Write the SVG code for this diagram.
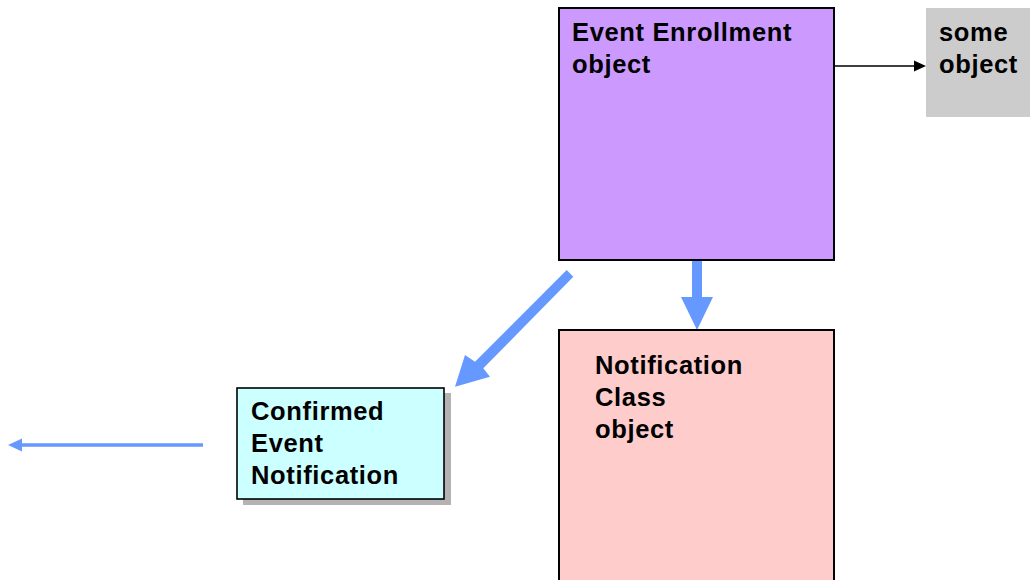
<svg xmlns="http://www.w3.org/2000/svg" width="1030" height="580" viewBox="0 0 1030 580">
<style>
.t{font-family:"Liberation Sans",Arial,sans-serif;font-weight:bold;font-size:25.5px;letter-spacing:0.65px;fill:#000}
.blue{fill:#6699FF}
</style>
<rect width="1030" height="580" fill="#fff"/>
<g id="connectors">
<line x1="835" y1="66" x2="916" y2="66" stroke="#000" stroke-width="1.6"/>
<polygon points="926,66 914,60.5 914,71.5" fill="#000"/>
<polygon class="blue" points="692,261 702,261 702,297 713,297 697,330 681,297 692,297"/>
<polygon class="blue" points="566.7,270 573.3,276.7 483.3,368.3 490,376.7 455,386.7 465,355 475,361.7"/>
<line x1="203" y1="445" x2="20" y2="445" stroke="#6699FF" stroke-width="3.6"/>
<polygon class="blue" points="8,445 22,438.5 22,451.5"/>
</g>
<g id="event-enrollment">
<rect x="559" y="8" width="275" height="252" fill="#CC99FF" stroke="#000" stroke-width="2"/>
<text class="t" x="572" y="41">Event Enrollment</text>
<text class="t" x="572" y="73">object</text>
</g>
<g id="some-object">
<rect x="926" y="8" width="110" height="109" fill="#CCCCCC"/>
<text class="t" x="939" y="41">some</text>
<text class="t" x="939" y="73">object</text>
</g>
<g id="notification-class">
<rect x="559" y="330" width="275" height="260" fill="#FFCCCC" stroke="#000" stroke-width="2"/>
<text class="t" x="595" y="374">Notification</text>
<text class="t" x="595" y="406">Class</text>
<text class="t" x="595" y="438">object</text>
</g>
<g id="confirmed-event-notification">
<rect x="243" y="393" width="208" height="112" fill="#B3B3B3"/>
<rect x="237" y="388" width="207" height="111" fill="#CCFFFF" stroke="#000" stroke-width="1.6"/>
<text class="t" x="251" y="420">Confirmed</text>
<text class="t" x="251" y="452">Event</text>
<text class="t" x="251" y="484">Notification</text>
</g>
</svg>
